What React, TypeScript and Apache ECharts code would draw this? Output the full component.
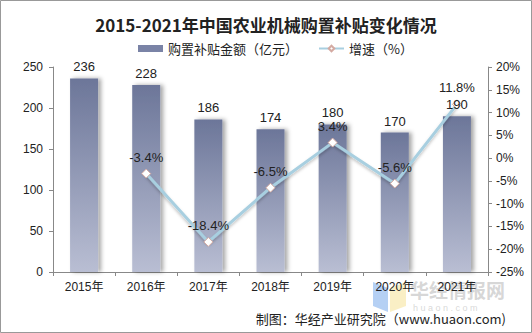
import React, { useEffect, useRef } from "react";
import * as echarts from "echarts";

const categories = ["2015年", "2016年", "2017年", "2018年", "2019年", "2020年", "2021年"];
const subsidy = [236, 228, 186, 174, 180, 170, 190];
const growth: (number | null)[] = [null, -3.4, -18.4, -6.5, 3.4, -5.6, 11.8];
const barName = "购置补贴金额（亿元）";
const lineName = "增速（%）";
const titleText = "2015-2021年中国农业机械购置补贴变化情况";
const sourceText = "制图：华经产业研究院（www.huaon.com)";

export default function App() {
  const ref = useRef<HTMLDivElement>(null);
  useEffect(() => {
    document.body.style.margin = "0";
    const chart = echarts.init(ref.current!, null, { renderer: "svg" });
    const font = "Arial, 'Liberation Sans', 'Noto Sans CJK SC', sans-serif";
    chart.setOption({
      animation: false,
      backgroundColor: "#fff",
      textStyle: { fontFamily: font },
      title: {
        text: titleText,
        left: "center",
        top: 11,
        textStyle: { fontSize: 17, fontWeight: "bold", color: "#222", fontFamily: "'Noto Sans CJK SC', sans-serif" },
      },
      legend: {
        top: 37,
        left: 133,
        itemGap: 20,
        itemWidth: 25,
        itemHeight: 7,
        textStyle: { fontSize: 13, color: "#222", fontFamily: "'Noto Sans CJK SC', sans-serif" },
        data: [
          { name: barName, icon: "rect", itemStyle: { color: "#7a83a6" } },
          { name: lineName },
        ],
      },
      grid: { left: 53, right: 44, top: 67, bottom: 61 },
      xAxis: {
        type: "category",
        data: categories,
        axisLine: { lineStyle: { color: "#888" } },
        axisTick: { show: true, length: 4, lineStyle: { color: "#888" } },
        axisLabel: { color: "#222", fontSize: 12, margin: 9 },
      },
      yAxis: [
        {
          type: "value",
          min: 0,
          max: 250,
          interval: 50,
          axisLine: { show: true, lineStyle: { color: "#888" } },
          axisTick: { show: true, length: 4, lineStyle: { color: "#888" } },
          axisLabel: { color: "#222", fontSize: 12, margin: 10 },
          splitLine: { show: false },
        },
        {
          type: "value",
          min: -25,
          max: 20,
          interval: 5,
          position: "right",
          axisLine: { show: true, lineStyle: { color: "#888" } },
          axisTick: { show: true, length: 4, lineStyle: { color: "#888" } },
          axisLabel: { color: "#222", fontSize: 12, margin: 8, formatter: "{value}%" },
          splitLine: { show: false },
        },
      ],
      series: [
        {
          name: barName,
          type: "bar",
          data: subsidy,
          barWidth: 28,
          itemStyle: {
            color: new echarts.graphic.LinearGradient(0, 0, 0, 1, [
              { offset: 0, color: "#6c7699" },
              { offset: 1, color: "#b9bed3" },
            ]),
            shadowColor: "rgba(0,0,0,0.35)",
            shadowBlur: 4,
            shadowOffsetX: 3,
          },
          z: 2,
        },
        {
          name: lineName,
          type: "line",
          yAxisIndex: 1,
          data: growth,
          symbol: "diamond",
          symbolSize: 9,
          lineStyle: { color: "#a8cfe0", width: 3, shadowColor: "rgba(0,0,0,0.25)", shadowBlur: 3, shadowOffsetY: 2 },
          itemStyle: { color: "#ffffff", borderColor: "#d4aaa2", borderWidth: 1 },
          label: { show: true, position: "top", color: "#222", fontSize: 13, distance: 5, formatter: "{c}%" },
          z: 3,
        },
        {
          name: "barLabels",
          type: "bar",
          data: subsidy,
          barWidth: 28,
          barGap: "-100%",
          itemStyle: { color: "rgba(0,0,0,0)" },
          label: { show: true, position: "top", color: "#222", fontSize: 13, distance: 5 },
          silent: true,
          tooltip: { show: false },
          z: 5,
        },
      ],
      graphic: [
        {
          type: "rect",
          shape: { x: 0.5, y: 0.5, width: 531, height: 332 },
          style: { fill: "none", stroke: "#999", lineWidth: 1 },
          silent: true,
        },
        {
          type: "polygon",
          shape: { points: [[373, 282], [388, 288], [388, 312], [373, 306]] },
          style: { fill: "rgba(120,170,235,0.55)" },
          silent: true,
        },
        {
          type: "polygon",
          shape: { points: [[390, 288], [406, 282], [406, 306], [390, 312]] },
          style: { fill: "rgba(245,225,150,0.55)" },
          silent: true,
        },
        {
          type: "text",
          x: 410,
          y: 280,
          style: { text: "华经情报网", fill: "rgba(180,180,180,0.55)", fontSize: 19, fontWeight: "bold", fontFamily: "'Noto Sans CJK SC', sans-serif" },
          silent: true,
        },
        {
          type: "text",
          x: 413,
          y: 303,
          style: { text: "h u a o n . c o m", fill: "rgba(190,190,190,0.6)", fontSize: 9, fontFamily: font },
          silent: true,
        },
        {
          type: "text",
          right: 26,
          top: 312,
          style: { text: sourceText, fill: "#222", fontSize: 13, fontFamily: "'Noto Sans CJK SC', sans-serif" },
        },
      ],
    });
    return () => chart.dispose();
  }, []);
  return <div ref={ref} style={{ width: 532, height: 333, position: "absolute", left: 0, top: 0 }} />;
}
